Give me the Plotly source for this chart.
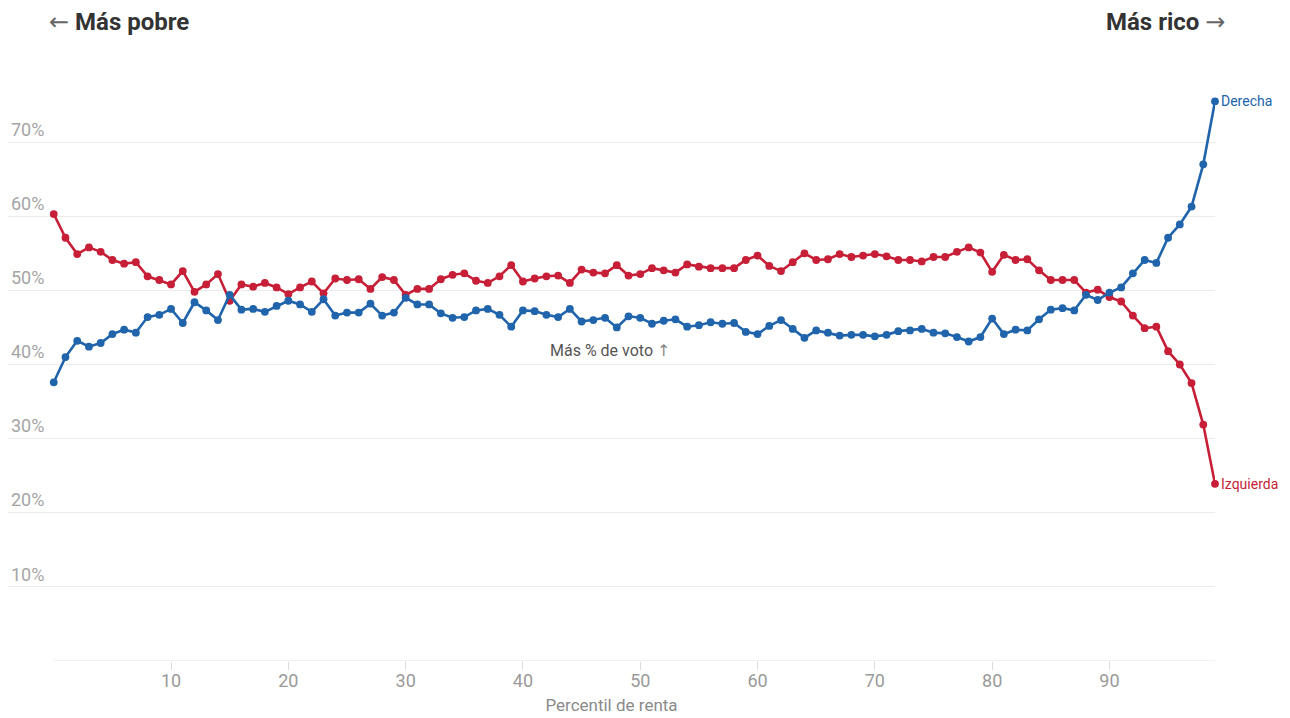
import plotly.graph_objects as go

percentil = list(range(0, 100))

derecha = [
    37.6, 41.0, 43.2, 42.4, 42.9, 44.1, 44.7, 44.3, 46.4, 46.7,
    47.5, 45.6, 48.4, 47.3, 46.0, 49.4, 47.4, 47.5, 47.1, 47.9,
    48.6, 48.1, 47.1, 48.8, 46.6, 47.0, 47.0, 48.2, 46.6, 47.0,
    49.0, 48.1, 48.1, 46.9, 46.3, 46.4, 47.3, 47.5, 46.7, 45.1,
    47.3, 47.2, 46.7, 46.4, 47.5, 45.8, 46.0, 46.3, 45.0, 46.5,
    46.3, 45.5, 45.9, 46.1, 45.1, 45.3, 45.7, 45.5, 45.6, 44.4,
    44.1, 45.2, 46.0, 44.8, 43.6, 44.6, 44.3, 43.9, 44.0, 44.0,
    43.8, 44.0, 44.5, 44.6, 44.8, 44.3, 44.2, 43.7, 43.1, 43.7,
    46.2, 44.1, 44.7, 44.6, 46.1, 47.4, 47.6, 47.3, 49.4, 48.7,
    49.7, 50.4, 52.3, 54.1, 53.7, 57.1, 58.9, 61.3, 67.0, 75.5,
]

izquierda = [
    60.3, 57.1, 54.9, 55.8, 55.2, 54.1, 53.6, 53.8, 51.9, 51.4,
    50.8, 52.6, 49.8, 50.8, 52.2, 48.6, 50.8, 50.5, 51.0, 50.4,
    49.5, 50.4, 51.2, 49.6, 51.6, 51.4, 51.5, 50.2, 51.8, 51.4,
    49.4, 50.2, 50.2, 51.5, 52.1, 52.3, 51.3, 51.0, 51.9, 53.4,
    51.2, 51.6, 51.9, 52.0, 51.0, 52.8, 52.4, 52.3, 53.4, 52.0,
    52.2, 53.0, 52.7, 52.4, 53.5, 53.2, 53.0, 53.0, 53.0, 54.1,
    54.7, 53.3, 52.6, 53.8, 55.0, 54.1, 54.2, 54.9, 54.5, 54.7,
    54.9, 54.6, 54.1, 54.1, 53.9, 54.5, 54.5, 55.2, 55.8, 55.1,
    52.5, 54.8, 54.1, 54.2, 52.7, 51.4, 51.4, 51.4, 49.7, 50.1,
    49.1, 48.5, 46.6, 44.9, 45.1, 41.8, 40.0, 37.5, 31.9, 23.9,
]

series_names = ["Derecha", "Izquierda"]
x_ticks = [10, 20, 30, 40, 50, 60, 70, 80, 90]
y_ticks = [10, 20, 30, 40, 50, 60, 70]
y_tick_labels = ["10%", "20%", "30%", "40%", "50%", "60%", "70%"]

BLUE = "#2064ab"
RED = "#c61f37"
FONT = "Roboto"
ARROW = "font-family:DejaVu Sans;font-weight:normal;color:#666"

fig = go.Figure()
for name, vals, col in [("Izquierda", izquierda, RED), ("Derecha", derecha, BLUE)]:
    fig.add_trace(go.Scatter(
        x=percentil, y=vals, name=name, mode="lines+markers",
        line=dict(color=col, width=2.6),
        marker=dict(color=col, size=7.8),
        cliponaxis=False, showlegend=False,
    ))

# end labels
for name, vals, col in [("Derecha", derecha, BLUE), ("Izquierda", izquierda, RED)]:
    fig.add_annotation(
        x=percentil[-1], y=vals[-1], xref="x", yref="y",
        text=name, showarrow=False, xanchor="left", yanchor="middle",
        xshift=4, font=dict(family=FONT, size=14, color=col),
    )

# baseline from first to last percentile
fig.add_shape(type="line", xref="x", yref="y",
              x0=percentil[0], x1=percentil[-1], y0=0, y1=0,
              line=dict(color="#e2e2e2", width=1.2), layer="below")

fig.add_annotation(
    x=47.4, y=41.9, xref="x", yref="y",
    text="Más % de voto <span style='font-family:DejaVu Sans;color:#888'>↑</span>",
    showarrow=False,
    font=dict(family=FONT, size=16, color="#555"),
)

fig.add_annotation(
    x=0, y=1, xref="paper", yref="paper", xshift=39, yshift=46,
    text=f"<span style='{ARROW}'>←</span> <b>Más pobre</b>",
    showarrow=False, xanchor="left", yanchor="middle",
    font=dict(family=FONT, size=24, color="#333"),
)
fig.add_annotation(
    x=1, y=1, xref="paper", yref="paper", xshift=12, yshift=46,
    text=f"<b>Más rico</b> <span style='{ARROW}'>→</span>",
    showarrow=False, xanchor="right", yanchor="middle",
    font=dict(family=FONT, size=24, color="#333"),
)

fig.update_layout(
    width=1282, height=710,
    margin=dict(l=0, r=75, t=60, b=57),
    paper_bgcolor="white", plot_bgcolor="white",
    font=dict(family=FONT),
    xaxis=dict(
        range=[-3.9, 99], tickvals=x_ticks, showgrid=False, zeroline=False,
        showline=False, ticks="outside", ticklen=8, tickcolor="#dcdcdc",
        ticklabelstandoff=-5,
        tickfont=dict(family=FONT, size=18, color="#9a9a9a"),
        title=dict(text="Percentil de renta", standoff=9,
                   font=dict(family=FONT, size=17, color="#8a8a8a")),
    ),
    yaxis=dict(
        range=[0, 80], tickvals=y_ticks, ticktext=y_tick_labels,
        showgrid=True, gridcolor="#ebebeb", gridwidth=1, zeroline=False,
        showline=False, ticks="", ticklabelposition="inside top",
        tickfont=dict(family=FONT, size=18, color="#a5a5a5"),
    ),
)

fig.write_html("out.html")
